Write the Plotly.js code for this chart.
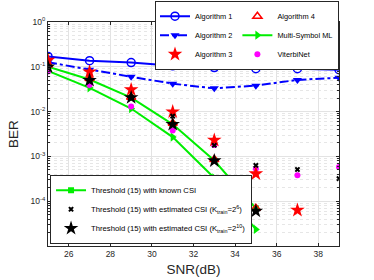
<!DOCTYPE html>
<html><head><meta charset="utf-8">
<script src="https://cdn.plot.ly/plotly-3.0.1.min.js"></script>
<style>html,body{margin:0;padding:0;background:#fff}#chart{width:374px;height:280px}</style>
</head><body><div id="chart"></div>
<script>
const snr = [25, 27, 29, 31, 33, 35, 37, 39];
const alg1 = [0.17, 0.137, 0.124, 0.105, 0.096, 0.091, 0.091, 0.086];
const alg2 = [0.126, 0.086, 0.06, 0.042, 0.033, 0.038, 0.051, 0.057];
const alg3 = [0.14, 0.077, 0.031, 0.0099, 0.0023, 0.00041, 0.000063, null];
const alg4 = [0.11, 0.055, 0.021, 0.0055, 0.00085, 0.00007, null, null];
const msml = [0.081, 0.034, 0.0117, 0.0027, 0.00033, 0.0000235];
const viterbi = [0.079, 0.039, 0.013, 0.0038, 0.0018, 0.00053, 0.00038, 0.00058];
const thrKnown = [0.1, 0.052, 0.0205, 0.0052, 0.00081, 0.000069];
const thrEst6 = [0.1, 0.05, 0.021, 0.0079, 0.00177, 0.00063, 0.00051, 0.00032];
const thrEst10 = [0.1, 0.05, 0.0205, 0.0052, 0.0008, 0.00006];
const xTicks = [26, 28, 30, 32, 34, 36, 38];
const yTicks = [1e-4, 1e-3, 1e-2, 1e-1, 1];
const yTickText = ['10<sup>-4</sup>', '10<sup>-3</sup>', '10<sup>-2</sup>', '10<sup>-1</sup>', '10<sup>0</sup>'];

const traces = [
  {x: snr, y: alg1, name: 'Algorithm 1', mode: 'lines+markers', legend: 'legend', legendgroup: 'a', legendrank: 1,
   line: {color: '#0000ff', width: 2}, marker: {symbol: 'circle-open', size: 8, color: '#0000ff', line: {width: 1.5}}},
  {x: snr, y: alg2, name: 'Algorithm 2', mode: 'lines+markers', legend: 'legend', legendgroup: 'a', legendrank: 2,
   line: {color: '#0000ff', width: 2, dash: 'dashdot'}, marker: {symbol: 'triangle-down', size: 8, color: '#0000ff'}},
  {x: snr.slice(0, msml.length), y: msml, name: 'Multi-Symbol ML', mode: 'lines+markers', legend: 'legend', legendgroup: 'b', legendrank: 5,
   line: {color: '#00ee00', width: 2}, marker: {symbol: 'triangle-right', size: 8, color: '#00ee00'}},
  {x: snr.slice(0, thrKnown.length), y: thrKnown, name: 'Threshold (15) with known CSI', mode: 'lines+markers', legend: 'legend2', legendrank: 1,
   line: {color: '#00ee00', width: 2}, marker: {symbol: 'square', size: 6, color: '#00ee00'}},
  {x: snr, y: viterbi, name: 'ViterbiNet', mode: 'markers', legend: 'legend', legendgroup: 'b', legendrank: 6,
   marker: {symbol: 'circle', size: 6, color: '#ff00ff'}},
  {x: snr, y: alg4, name: 'Algorithm 4', mode: 'markers', legend: 'legend', legendgroup: 'b', legendrank: 4,
   marker: {symbol: 'triangle-up-open', size: 8, color: '#ff0000', line: {width: 1.5}}},
  {x: snr, y: alg3, name: 'Algorithm 3', mode: 'markers', legend: 'legend', legendgroup: 'a', legendrank: 3,
   marker: {symbol: 'star', size: 11, color: '#ff0000'}},
  {x: snr, y: thrEst6, name: 'Threshold (15) with estimated CSI (K<sub>train</sub>=2<sup>6</sup>)', mode: 'markers', legend: 'legend2', legendrank: 2,
   marker: {symbol: 'x', size: 5, color: '#000000'}},
  {x: snr.slice(0, thrEst10.length), y: thrEst10, name: 'Threshold (15) with estimated CSI (K<sub>train</sub>=2<sup>10</sup>)', mode: 'markers', legend: 'legend2', legendrank: 3,
   marker: {symbol: 'star', size: 11, color: '#000000'}}
];

const layout = {
  width: 374, height: 280,
  margin: {l: 48, r: 35, t: 22, b: 34, autoexpand: false},
  paper_bgcolor: '#ffffff', plot_bgcolor: '#ffffff',
  font: {family: 'Liberation Sans, Arial, sans-serif', color: '#262626', size: 8},
  showlegend: true,
  xaxis: {
    range: [25, 39], tickvals: xTicks, ticks: 'inside', ticklen: 3, tickcolor: '#262626',
    showline: true, mirror: 'ticks', linecolor: '#262626', linewidth: 1,
    showgrid: true, gridcolor: '#e3e3e3', zeroline: false,
    tickfont: {size: 8.5, color: '#262626'},
    title: {text: 'SNR(dB)', font: {size: 13.5, color: '#262626'}, standoff: 6}
  },
  yaxis: {
    type: 'log', range: [-5, 0], tickvals: yTicks, ticktext: yTickText,
    ticks: 'inside', ticklen: 3, tickcolor: '#262626',
    showline: true, mirror: 'ticks', linecolor: '#262626', linewidth: 1,
    showgrid: true, gridcolor: '#e3e3e3', zeroline: false,
    minor: {showgrid: true, dtick: 'D1', gridcolor: '#e6e6e6', griddash: 'dot', ticks: 'inside', ticklen: 2, tickcolor: '#262626'},
    tickfont: {size: 8.5, color: '#262626'},
    title: {text: 'BER', font: {size: 13.5, color: '#262626'}, standoff: 8}
  },
  legend: {
    x: 1, y: 1.095, xanchor: 'right', yanchor: 'top', orientation: 'h',
    traceorder: 'grouped', itemwidth: 30,
    bgcolor: '#ffffff', bordercolor: '#262626', borderwidth: 1,
    font: {size: 7.4, color: '#000000'}
  },
  legend2: {
    x: 0.007, y: 0.01, xanchor: 'left', yanchor: 'bottom', orientation: 'v',
    itemwidth: 30, traceorder: 'normal',
    bgcolor: '#ffffff', bordercolor: '#262626', borderwidth: 1,
    font: {size: 7.7, color: '#000000'}
  }
};

Plotly.newPlot('chart', traces, layout, {displayModeBar: false, staticPlot: true});
</script>
</body></html>
